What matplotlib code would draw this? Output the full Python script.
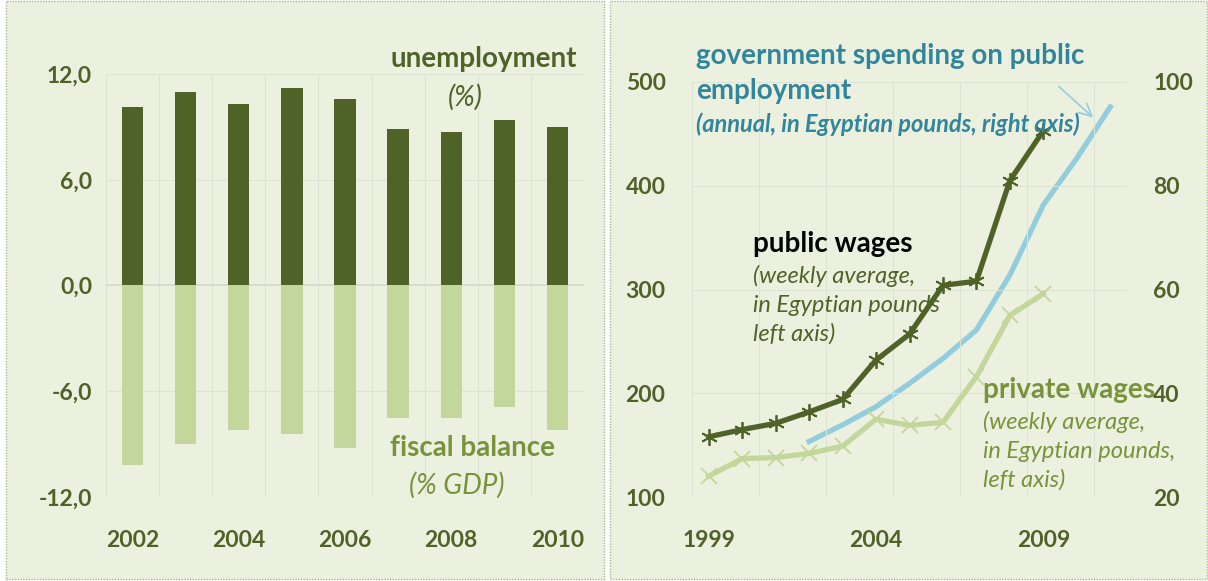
import numpy as np
import matplotlib
matplotlib.use("Agg")
import matplotlib.pyplot as plt
from matplotlib.patches import Rectangle
from matplotlib.ticker import FuncFormatter

plt.rcParams['font.family'] = ['Lato', 'DejaVu Sans']

# left panel: Egypt unemployment and fiscal balance
years_left = ['2002', '2003', '2004', '2005', '2006', '2007', '2008', '2009', '2010']
unemployment = [10.1, 11.0, 10.3, 11.2, 10.6, 8.9, 8.7, 9.4, 9.0]
fiscal_balance = [-10.2, -9.0, -8.2, -8.4, -9.2, -7.5, -7.5, -6.9, -8.2]

# right panel: wages and public employment spending
years_right = ['1999', '2000', '2001', '2002', '2003', '2004', '2005',
               '2006', '2007', '2008', '2009', '2010', '2011']
public_wages = [158, 165, 171, 182, 194, 232, 257, 304, 308, 405, 453]
private_wages = [120, 137, 138, 142, 149, 175, 169, 172, 216, 275, 296]
gov_spending = [30.7, 33.9, 37.4, 41.9, 46.7, 52.2, 62.8, 76.3, 85.3, 95.2]  # 2002-2011

DARK = '#4F6228'
LIGHT = '#C3D69B'
MID = '#77933C'
BLUE = '#93CDDD'
TEAL = '#31859C'
BG = '#EBF1DE'
GRID = '#DDE3D2'

W, H = 1208, 581
fig = plt.figure(figsize=(W / 100, H / 100), dpi=100)
fig.patch.set_facecolor('white')


def px(x, y):
    return x / W, 1 - y / H


# panel backgrounds
for x0, x1 in [(6, 604), (610, 1207)]:
    fig.patches.append(Rectangle(px(x0, 579), (x1 - x0) / W, 578 / H,
                                 transform=fig.transFigure, facecolor=BG,
                                 edgecolor='#A9B894', lw=1, ls=(0, (1, 1)),
                                 zorder=-10))

tick_font = dict(fontsize=16.5, fontweight='bold', color=DARK)
LBL = 20
SUB = 17

# ---- left chart
ax1 = fig.add_axes([106 / W, 1 - 497 / H, 478 / W, 423 / H])
ax1.set_facecolor('none')
x = np.arange(len(years_left))
ax1.bar(x, unemployment, width=0.4, color=DARK, zorder=3)
ax1.bar(x, fiscal_balance, width=0.4, color=LIGHT, zorder=3)
ax1.set_xlim(-0.5, len(years_left) - 0.5)
ax1.set_ylim(-12, 12)
ax1.set_yticks([-12, -6, 0, 6, 12])
ax1.yaxis.set_major_formatter(FuncFormatter(lambda v, p: ('%.1f' % v).replace('.', ',')))
ax1.set_xticks(x[::2])
ax1.set_xticklabels(years_left[::2])
for k in range(len(years_left) + 1):
    ax1.axvline(k - 0.5, color=GRID, lw=0.7, zorder=1)
for v in [-12, -6, 6, 12]:
    ax1.axhline(v, color=GRID, lw=0.7, zorder=1)
ax1.axhline(0, color='#D3D8CB', lw=1.2, zorder=2)
for s in ax1.spines.values():
    s.set_visible(False)
ax1.tick_params(length=0)
ax1.tick_params(axis='y', pad=10)
ax1.tick_params(axis='x', pad=24)
for lab in ax1.get_xticklabels() + ax1.get_yticklabels():
    lab.set(**tick_font)

fig.text(*px(484, 59), 'unemployment', ha='center', va='center',
         fontsize=LBL, fontweight='bold', color=DARK)
fig.text(*px(465, 97), '(%)', ha='center', va='center',
         fontsize=LBL, style='italic', color=DARK)
fig.text(*px(473, 448), 'fiscal balance', ha='center', va='center',
         fontsize=LBL, fontweight='bold', color=MID)
fig.text(*px(457, 485), '(% GDP)', ha='center', va='center',
         fontsize=LBL, style='italic', color=MID)

# ---- right chart
ax2 = fig.add_axes([692 / W, 1 - 497 / H, 435 / W, 415 / H])
ax2.set_facecolor('none')
xr = np.arange(len(years_right))
ax2.plot(xr[:len(public_wages)], public_wages, color=DARK, lw=3.8,
         marker=(6, 2, 0), ms=12, mew=1.3, zorder=4)
ax2.plot(xr[:len(private_wages)], private_wages, color=LIGHT, lw=3.8,
         marker='x', ms=11, mew=1.3, zorder=3)
ax2.set_xlim(-0.5, len(years_right) - 0.5)
ax2.set_ylim(100, 500)
ax2.set_yticks([100, 200, 300, 400, 500])
ax2.set_xticks([0, 5, 10])
ax2.set_xticklabels([years_right[0], years_right[5], years_right[10]])
for k in range(0, len(years_right) + 1, 2):
    ax2.axvline(k - 0.5, color=GRID, lw=0.7, zorder=1)
for v in [100, 200, 300, 400, 500]:
    ax2.axhline(v, color=GRID, lw=0.7, zorder=1)
for s in ax2.spines.values():
    s.set_visible(False)
ax2.tick_params(length=0)
ax2.tick_params(axis='y', pad=19)
ax2.tick_params(axis='x', pad=24)

ax3 = ax2.twinx()
ax3.plot(xr[3:3 + len(gov_spending)], gov_spending, color=BLUE, lw=3.8, zorder=2)
ax3.set_ylim(20, 100)
ax3.set_yticks([20, 40, 60, 80, 100])
for s in ax3.spines.values():
    s.set_visible(False)
ax3.tick_params(length=0, pad=19)
ax2.set_zorder(ax3.get_zorder() + 1)
for lab in ax2.get_xticklabels() + ax2.get_yticklabels() + ax3.get_yticklabels():
    lab.set(**tick_font)
ax3.annotate('', xy=(11.55, 92.8), xytext=(10.4, 99.5), xycoords='data',
             arrowprops=dict(arrowstyle='->', color=BLUE, lw=1.2,
                             mutation_scale=22), annotation_clip=False)

fig.text(*px(696, 56), 'government spending on public', ha='left', va='center',
         fontsize=LBL, fontweight='bold', color=TEAL)
fig.text(*px(696, 91), 'employment', ha='left', va='center',
         fontsize=LBL, fontweight='bold', color=TEAL)
fig.text(*px(696, 124), '(annual, in Egyptian pounds, right axis)', ha='left',
         va='center', fontsize=SUB, fontweight='bold', style='italic', color=TEAL)

fig.text(*px(753, 244), 'public wages', ha='left', va='center',
         fontsize=LBL, fontweight='bold', color='black')
for i, line in enumerate(['(weekly average,', 'in Egyptian pounds', 'left axis)']):
    fig.text(*px(753, 276 + 29 * i), line, ha='left', va='center',
             fontsize=SUB, style='italic', color=DARK)

fig.text(*px(983, 390), 'private wages', ha='left', va='center',
         fontsize=LBL, fontweight='bold', color=MID)
for i, line in enumerate(['(weekly average,', 'in Egyptian pounds,', 'left axis)']):
    fig.text(*px(983, 422 + 29 * i), line, ha='left', va='center',
             fontsize=SUB, style='italic', color=MID)

fig.savefig('out.png', dpi=100, facecolor=fig.get_facecolor())
